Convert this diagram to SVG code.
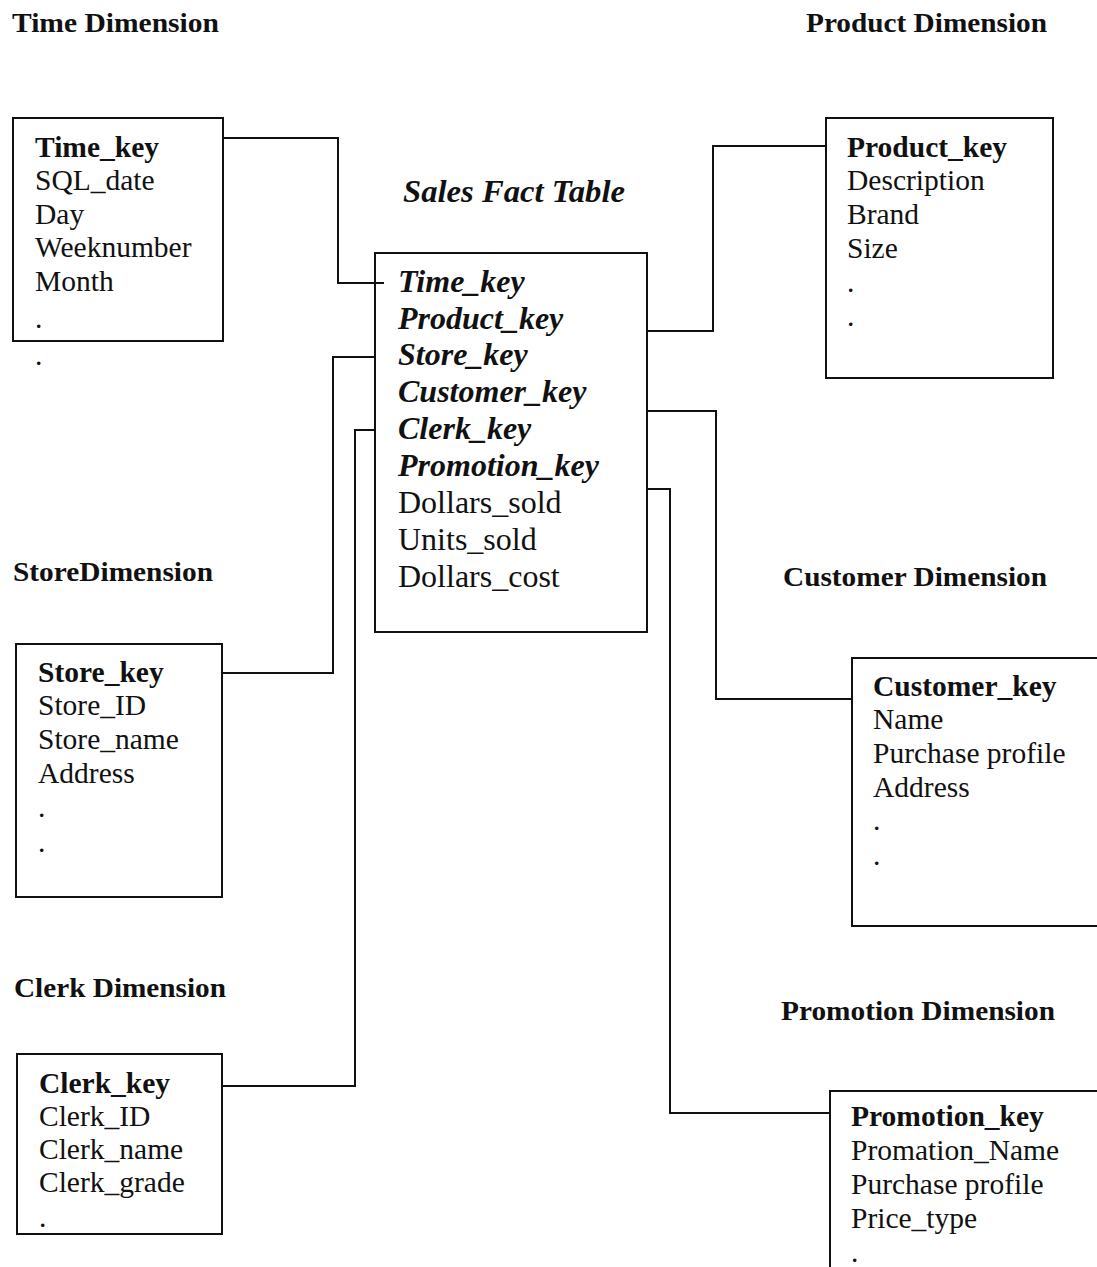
<svg xmlns="http://www.w3.org/2000/svg" width="1097" height="1267" viewBox="0 0 1097 1267">
  <style>
    .bg { fill: #ffffff; }
    .box { fill: none; stroke: #111; stroke-width: 2; }
    .link { fill: none; stroke: #111; stroke-width: 2; }
    text { font-family: 'Liberation Serif', 'DejaVu Serif', serif; fill: #111; }
    .hdr { font-weight: bold; font-size: 27px; }
    .title { font-weight: bold; font-style: italic; font-size: 31px; }
    .fld { font-size: 29.5px; }
    .key { font-weight: bold; }
    .ffld { font-size: 32px; }
    .fkey { font-weight: bold; font-style: italic; }
  </style>
  <rect class="bg" x="0" y="0" width="1097" height="1267"/>

  <!-- section headings -->
  <g id="headings" font-family="Liberation Serif, DejaVu Serif, serif">
    <text class="hdr" x="12" y="32" textLength="207" lengthAdjust="spacingAndGlyphs">Time Dimension</text>
    <text class="hdr" x="806" y="32" textLength="241" lengthAdjust="spacingAndGlyphs">Product Dimension</text>
    <text class="title" x="403" y="202" textLength="222" lengthAdjust="spacingAndGlyphs">Sales Fact Table</text>
    <text class="hdr" x="13" y="581" textLength="200" lengthAdjust="spacingAndGlyphs">StoreDimension</text>
    <text class="hdr" x="783" y="586" textLength="264" lengthAdjust="spacingAndGlyphs">Customer Dimension</text>
    <text class="hdr" x="14" y="997" textLength="212" lengthAdjust="spacingAndGlyphs">Clerk Dimension</text>
    <text class="hdr" x="781" y="1020" textLength="274" lengthAdjust="spacingAndGlyphs">Promotion Dimension</text>
  </g>

  <!-- connectors between dimension keys and the fact table -->
  <g id="connectors">
    <path class="link" d="M223,138 H338 V283 H384"/>
    <path class="link" d="M826,146 H713 V331 H647"/>
    <path class="link" d="M222,673 H333 V357 H375"/>
    <path class="link" d="M222,1086 H355 V430 H375"/>
    <path class="link" d="M852,699 H716 V411 H647"/>
    <path class="link" d="M830,1113 H670 V489 H647"/>
  </g>

  <g id="time-dimension" font-family="Liberation Serif, DejaVu Serif, serif">
    <rect class="box" x="13" y="118" width="210" height="223"/>
    <text class="fld key" x="35" y="157">Time_key</text>
    <text class="fld" x="35" y="190">SQL_date</text>
    <text class="fld" x="35" y="224">Day</text>
    <text class="fld" x="35" y="257">Weeknumber</text>
    <text class="fld" x="35" y="291">Month</text>
    <text class="fld" x="35" y="328">.</text>
    <text class="fld" x="35" y="365">.</text>
  </g>

  <g id="sales-fact" font-family="Liberation Serif, DejaVu Serif, serif">
    <rect class="box" x="375" y="253" width="272" height="379"/>
    <text class="ffld fkey" x="398" y="292">Time_key</text>
    <text class="ffld fkey" x="398" y="329">Product_key</text>
    <text class="ffld fkey" x="398" y="365">Store_key</text>
    <text class="ffld fkey" x="398" y="402">Customer_key</text>
    <text class="ffld fkey" x="398" y="439">Clerk_key</text>
    <text class="ffld fkey" x="398" y="476">Promotion_key</text>
    <text class="ffld" x="398" y="513">Dollars_sold</text>
    <text class="ffld" x="398" y="550">Units_sold</text>
    <text class="ffld" x="398" y="587">Dollars_cost</text>
  </g>

  <g id="product-dimension" font-family="Liberation Serif, DejaVu Serif, serif">
    <rect class="box" x="826" y="118" width="227" height="260"/>
    <text class="fld key" x="847" y="157">Product_key</text>
    <text class="fld" x="847" y="190">Description</text>
    <text class="fld" x="847" y="224">Brand</text>
    <text class="fld" x="847" y="258">Size</text>
    <text class="fld" x="847" y="292">.</text>
    <text class="fld" x="847" y="326">.</text>
  </g>

  <g id="store-dimension" font-family="Liberation Serif, DejaVu Serif, serif">
    <rect class="box" x="16" y="644" width="206" height="253"/>
    <text class="fld key" x="38" y="682">Store_key</text>
    <text class="fld" x="38" y="715">Store_ID</text>
    <text class="fld" x="38" y="749">Store_name</text>
    <text class="fld" x="38" y="783">Address</text>
    <text class="fld" x="38" y="817">.</text>
    <text class="fld" x="38" y="852">.</text>
  </g>

  <g id="clerk-dimension" font-family="Liberation Serif, DejaVu Serif, serif">
    <rect class="box" x="17" y="1054" width="205" height="180"/>
    <text class="fld key" x="39" y="1093">Clerk_key</text>
    <text class="fld" x="39" y="1126">Clerk_ID</text>
    <text class="fld" x="39" y="1159">Clerk_name</text>
    <text class="fld" x="39" y="1192">Clerk_grade</text>
    <text class="fld" x="39" y="1227">.</text>
  </g>

  <g id="customer-dimension" font-family="Liberation Serif, DejaVu Serif, serif">
    <path class="box" d="M1100,658 H852 V926 H1100"/>
    <text class="fld key" x="873" y="696">Customer_key</text>
    <text class="fld" x="873" y="729">Name</text>
    <text class="fld" x="873" y="763">Purchase profile</text>
    <text class="fld" x="873" y="797">Address</text>
    <text class="fld" x="873" y="830">.</text>
    <text class="fld" x="873" y="865">.</text>
  </g>

  <g id="promotion-dimension" font-family="Liberation Serif, DejaVu Serif, serif">
    <path class="box" d="M1100,1091 H830 V1270"/>
    <text class="fld key" x="851" y="1126">Promotion_key</text>
    <text class="fld" x="851" y="1160">Promation_Name</text>
    <text class="fld" x="851" y="1194">Purchase profile</text>
    <text class="fld" x="851" y="1228">Price_type</text>
    <text class="fld" x="851" y="1262">.</text>
  </g>
</svg>
